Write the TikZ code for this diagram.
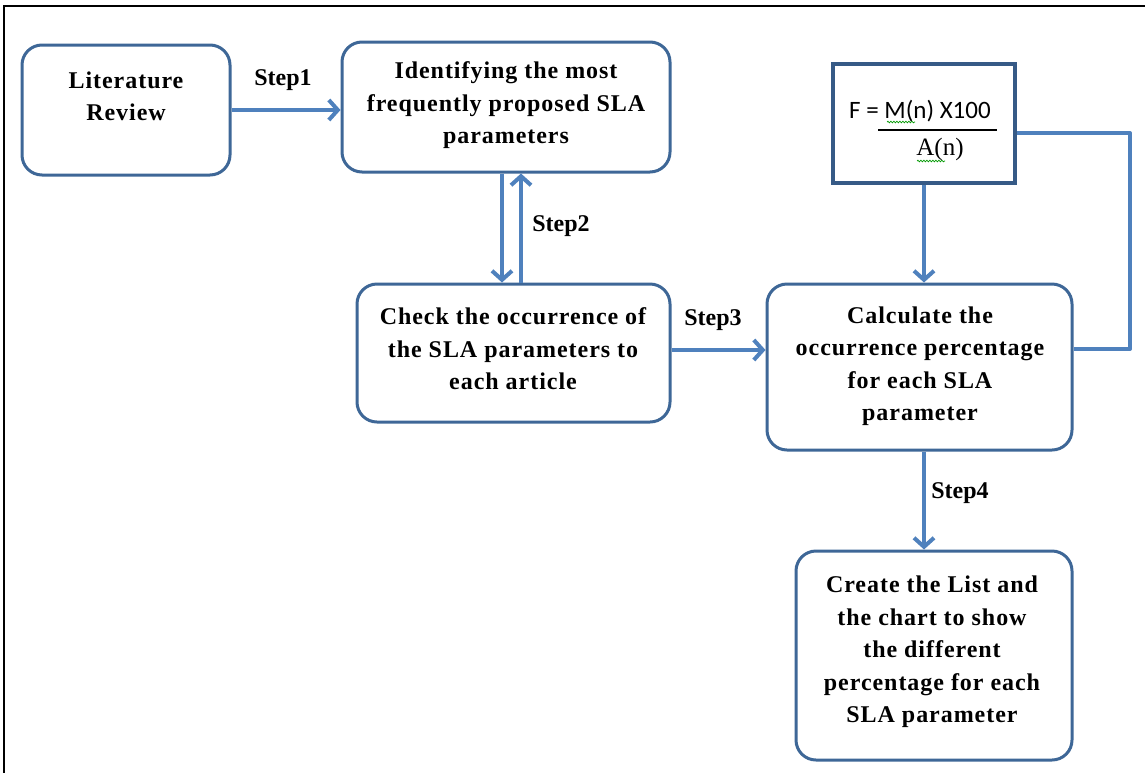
\documentclass[tikz,border=0pt]{standalone}
\usepackage{fontspec}
\setmainfont{Liberation Serif}
\newfontfamily\calfont{Carlito}
\usetikzlibrary{arrows.meta,decorations.pathmorphing}
\definecolor{arrowblue}{HTML}{4F81BD}
\definecolor{boxblue}{HTML}{3E6797}
\definecolor{fbox}{HTML}{365A86}
\begin{document}
\begin{tikzpicture}[x=1pt,y=-1pt,
  box/.style={draw=boxblue,line width=3pt,rounded corners=20pt,fill=white,inner sep=0pt},
  txt/.style={align=center,font=\fontsize{24}{32.5}\selectfont\bfseries\addfontfeature{LetterSpace=4},inner sep=0pt},
  steplbl/.style={font=\fontsize{24}{26}\selectfont\bfseries,inner sep=0pt},
  conn/.style={draw=arrowblue,line width=4pt,-{Straight Barb[length=9pt,width=20pt,line width=4pt]}},
  plainconn/.style={draw=arrowblue,line width=4pt,line join=round},
  squiggle/.style={green!60!black,line width=0.7pt,decorate,decoration={snake,amplitude=0.8pt,segment length=3pt}}]
\useasboundingbox (0,0) rectangle (1145,772);
\fill[white] (0,0) rectangle (1145,772);
\draw[black,line width=2pt] (4,800) -- (4,6) -- (1160,6);

\node[box,minimum width=208pt,minimum height=130pt] (lit) at (126,110) {};
\node[box,minimum width=328pt,minimum height=130pt] (ident) at (506,107) {};
\node[draw=fbox,line width=4pt,fill=white,minimum width=182pt,minimum height=119pt,inner sep=0pt] (formula) at (924,123.5) {};
\node[box,minimum width=313pt,minimum height=138pt] (check) at (513.5,353) {};
\node[box,minimum width=305pt,minimum height=166pt] (calc) at (919.5,367) {};
\node[box,minimum width=276pt,minimum height=209pt] (create) at (934,655.5) {};

\node[txt] (litT) at (126,96.5) {Literature\\Review};
\node[txt] (identT) at (506,105.5) {Identifying the most\\frequently proposed SLA\\parameters};
\node[txt] (checkT) at (513,349) {Check the occurrence of\\the SLA parameters to\\each article};
\node[txt] (calcT) at (920,366) {Calculate the\\occurrence percentage\\for each SLA\\parameter};
\node[txt] (createT) at (932,652) {Create the List and\\the chart to show\\the different\\percentage for each\\SLA parameter};

\node[inner sep=0pt,font=\calfont\fontsize{25}{28}\selectfont] (fnum) at (920,111) {F = M(n) X100};
\node[inner sep=0pt,font=\fontsize{25}{28}\selectfont] (fden) at (940,149) {A(n)};
\draw[black,line width=1.2pt] (878,130) -- (997,130);
\draw[squiggle] (887,122) -- (915,122);
\draw[squiggle] (917,161) -- (945,161);

\draw[conn] (lit.east) -- (lit.east -| ident.west);
\node[steplbl] (s1) at (283,80) {Step1};
\draw[conn] ([xshift=-4pt]ident.south) -- ([xshift=-4pt]ident.south |- check.north);
\draw[conn] ([xshift=15pt]ident.south |- check.north) -- ([xshift=15pt]ident.south);
\node[steplbl] (s2) at (561,226) {Step2};
\draw[conn] ([yshift=3pt]check.east) -- ([yshift=3pt]check.east -| calc.west);
\node[steplbl] (s3) at (713,320) {Step3};
\draw[conn] (formula.south) -- (formula.south |- calc.north);
\coordinate (bend) at (1130,133);
\draw[plainconn] ([yshift=-9.5pt]formula.east) -- (bend) |- ([yshift=18pt]calc.east);
\draw[conn] ([xshift=4.5pt]calc.south) -- ([xshift=4.5pt]calc.south |- create.north);
\node[steplbl] (s4) at (960,493) {Step4};
\end{tikzpicture}
\end{document}
